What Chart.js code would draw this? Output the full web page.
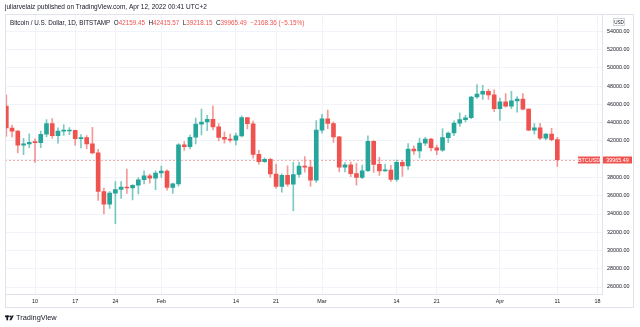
<!DOCTYPE html>
<html>
<head>
<meta charset="utf-8">
<title>BTCUSD 1D</title>
<script src="https://cdn.jsdelivr.net/npm/chart.js@4/dist/chart.umd.min.js"></script>
<style>
  html, body { margin: 0; padding: 0; background: #fff; }
  #wrap { width: 640px; height: 327px; position: relative; }
</style>
</head>
<body>
<div id="wrap"><canvas id="chart" width="640" height="327"></canvas></div>
<script>
// daily candles, Bitstamp BTC/USD
const dates = [
  '2022-01-05','2022-01-06','2022-01-07','2022-01-08','2022-01-09','2022-01-10','2022-01-11','2022-01-12',
  '2022-01-13','2022-01-14','2022-01-15','2022-01-16','2022-01-17','2022-01-18','2022-01-19','2022-01-20',
  '2022-01-21','2022-01-22','2022-01-23','2022-01-24','2022-01-25','2022-01-26','2022-01-27','2022-01-28',
  '2022-01-29','2022-01-30','2022-01-31','2022-02-01','2022-02-02','2022-02-03','2022-02-04','2022-02-05',
  '2022-02-06','2022-02-07','2022-02-08','2022-02-09','2022-02-10','2022-02-11','2022-02-12','2022-02-13',
  '2022-02-14','2022-02-15','2022-02-16','2022-02-17','2022-02-18','2022-02-19','2022-02-20','2022-02-21',
  '2022-02-22','2022-02-23','2022-02-24','2022-02-25','2022-02-26','2022-02-27','2022-02-28','2022-03-01',
  '2022-03-02','2022-03-03','2022-03-04','2022-03-05','2022-03-06','2022-03-07','2022-03-08','2022-03-09',
  '2022-03-10','2022-03-11','2022-03-12','2022-03-13','2022-03-14','2022-03-15','2022-03-16','2022-03-17',
  '2022-03-18','2022-03-19','2022-03-20','2022-03-21','2022-03-22','2022-03-23','2022-03-24','2022-03-25',
  '2022-03-26','2022-03-27','2022-03-28','2022-03-29','2022-03-30','2022-03-31','2022-04-01','2022-04-02',
  '2022-04-03','2022-04-04','2022-04-05','2022-04-06','2022-04-07','2022-04-08','2022-04-09','2022-04-10',
  '2022-04-11'
];
const open = [
  45833,43425,43080,41550,41680,41860,41820,42740,43920,42590,43090,43100,43180,42250,42380,41680,
  40700,36470,35080,36280,36680,36960,36850,37150,37750,38170,37920,38490,38710,36900,37310,41570,
  41390,42410,43850,44080,44380,43540,42400,42200,42080,42570,44570,43890,40540,39730,40000,38380,
  37010,38250,37260,38330,39240,39130,37710,43190,44420,43920,42460,39140,39400,38420,38020,38740,
  41970,39440,38730,38810,37790,39670,39280,41120,40920,41760,42200,41260,41000,42370,42880,43960,
  44350,44550,46820,47130,47450,47060,45530,46280,45830,46400,46600,45500,43200,43450,42300,42770,
  42159.45
];
const high = [
  47070,43750,43130,42300,42790,42250,43100,44350,44450,43450,43800,43480,43200,42690,42590,43500,
  41100,36830,36450,37540,37550,38920,37230,38000,38720,38370,38740,39260,38850,37390,41730,41940,
  42640,44500,45490,44800,45850,43910,43000,42750,42860,44770,44580,44180,40970,40160,40100,39470,
  38400,39270,39700,39700,40290,39860,44250,44920,45400,44100,42520,39640,39680,39550,39350,42570,
  42050,40220,39480,39320,39920,39870,41720,41470,42320,42400,42300,41540,43350,42990,44220,45100,
  44810,46900,48190,48100,47700,47600,46700,47200,47440,46870,47190,45520,43900,43950,42800,43380,
  42415.57
];
const low = [
  42500,42450,40700,40500,41260,39650,41270,42450,42320,41750,42600,42680,41550,41250,41150,40590,
  35500,34020,34620,32950,35700,36250,35550,36200,37300,37370,36660,38000,36600,36260,37060,40980,
  41120,41670,42660,43130,43220,42000,41770,41880,41570,42440,43330,40130,39450,39640,38010,36810,
  36400,37050,34330,38030,38590,37020,37470,42870,43350,41850,38600,38620,38100,37150,37860,38650,
  38550,38230,38660,37580,37570,38110,38850,40520,40140,41520,40920,40500,40870,41830,42580,43600,
  44080,44440,46670,46560,46550,45210,44250,45700,45550,45150,45400,43130,42760,42150,42130,42020,
  39218.15
];
const close = [
  43425,43080,41550,41680,41860,41820,42740,43920,42590,43090,43100,43180,42250,42380,41680,40700,
  36470,35080,36280,36680,36960,36850,37150,37750,38170,37920,38490,38710,36900,37310,41570,41390,
  42410,43850,44080,44380,43540,42400,42200,42080,42570,44570,43890,40540,39730,40000,38380,37010,
  38250,37260,38330,39240,39130,37710,43190,44420,43920,42460,39140,39400,38420,38020,38740,41970,
  39440,38730,38810,37790,39670,39280,41120,40920,41760,42200,41260,41000,42370,42880,43960,44350,
  44550,46820,47130,47450,47060,45530,46280,45830,46400,46600,45500,43200,43450,42300,42770,42133.85,
  39965.49
];

// axis labels
const tickDates = ['2022-01-10','2022-01-17','2022-01-24','2022-02-01','2022-02-14','2022-02-21',
                   '2022-03-01','2022-03-14','2022-03-21','2022-04-01','2022-04-11','2022-04-18'];
const tickLabels = ['10','17','24','Feb','14','21','Mar','14','21','Apr','11','18'];
const priceTicks = [26000,28000,30000,32000,34000,36000,38000,40000,42000,44000,46000,48000,50000,52000,54000];

const UP = '#26a69a', DOWN = '#ef5350';
const UP_WICK = 'rgba(38,166,154,0.6)', DOWN_WICK = 'rgba(239,83,80,0.6)';
const TEXT = '#131722', GRID = '#f0f3fa', LINE = '#e0e3eb';
const FONT = "'Liberation Sans', Arial, sans-serif";

const dayNum = s => (Date.parse(s) - Date.parse('2022-01-01')) / 864e5 + 1;
const days = dates.map(dayNum);
const tickDays = tickDates.map(dayNum);
const isUp = close.map((c, i) => c >= open[i]);

const last = close.length - 1;
const change = close[last] - close[last - 1];
const changePct = change / close[last - 1] * 100;

// top bar text, current price line, frame and logo
const overlay = {
  id: 'overlay',
  beforeDatasetsDraw(chart) {
    const { ctx, chartArea } = chart;
    const y = chart.scales.y.getPixelForValue(close[last]);
    ctx.save();
    ctx.strokeStyle = 'rgba(239,83,80,0.45)';
    ctx.lineWidth = 1;
    ctx.setLineDash([2, 2]);
    ctx.beginPath();
    ctx.moveTo(chartArea.left, Math.round(y) + 0.5);
    ctx.lineTo(chartArea.right - 25, Math.round(y) + 0.5);
    ctx.stroke();
    ctx.restore();
  },
  afterDraw(chart) {
    const { ctx, chartArea } = chart;
    const y = Math.round(chart.scales.y.getPixelForValue(close[last]));
    ctx.save();
    // price tags
    ctx.fillStyle = DOWN;
    ctx.fillRect(chartArea.right - 24.5, y - 3.5, 22, 7);
    ctx.fillRect(chartArea.right + 0.5, y - 3.5, 29, 7);
    ctx.fillStyle = '#fff';
    ctx.font = '5.4px ' + FONT;
    ctx.textAlign = 'center';
    ctx.textBaseline = 'middle';
    ctx.fillText('BTCUSD', chartArea.right - 13.5, y + 0.3);
    ctx.fillText(close[last].toFixed(2), chartArea.right + 15, y + 0.3);

    // frame
    ctx.strokeStyle = LINE;
    ctx.lineWidth = 1;
    ctx.strokeRect(5.5, 14.5, 628, 293);

    // USD box
    ctx.strokeStyle = '#d1d4dc';
    ctx.strokeRect(613.5, 18.5, 11, 7);
    ctx.fillStyle = TEXT;
    ctx.font = '4.6px ' + FONT;
    ctx.fillText('USD', 619, 22.3);

    // header
    ctx.textAlign = 'left';
    ctx.font = '6.5px ' + FONT;
    ctx.fillStyle = TEXT;
    ctx.fillText('juliarvelaiz published on TradingView.com, Apr 12, 2022 00:41 UTC+2', 5, 7.5);

    ctx.font = '6.3px ' + FONT;
    const parts = [
      ['Bitcoin / U.S. Dollar, 1D, BITSTAMP  O', TEXT],
      [open[last].toFixed(2), DOWN],
      ['  H', TEXT], [high[last].toFixed(2), DOWN],
      ['  L', TEXT], [low[last].toFixed(2), DOWN],
      ['  C', TEXT], [close[last].toFixed(2), DOWN],
      ['  \u2212' + Math.abs(change).toFixed(2) + ' (\u2212' + Math.abs(changePct).toFixed(2) + '%)', DOWN]
    ];
    let x = 10;
    parts.forEach(([t, c]) => {
      ctx.fillStyle = c;
      ctx.fillText(t, x, 23);
      x += ctx.measureText(t).width;
    });

    // footer logo
    ctx.fillStyle = TEXT;
    ctx.fillRect(5, 315.5, 4.2, 1.7);
    ctx.fillRect(6.4, 315.5, 1.7, 4.8);
    ctx.beginPath();
    ctx.arc(10.3, 316.4, 0.9, 0, Math.PI * 2);
    ctx.fill();
    ctx.beginPath();
    ctx.moveTo(11.8, 315.5);
    ctx.lineTo(13.8, 315.5);
    ctx.lineTo(11.3, 320.3);
    ctx.lineTo(9.4, 320.3);
    ctx.closePath();
    ctx.fill();
    ctx.font = '7.4px ' + FONT;
    ctx.fillText('TradingView', 16, 318.3);
    ctx.restore();
  }
};

const config = {
  type: 'bar',
  data: {
    datasets: [
      {
        label: 'wick',
        data: days.map((d, i) => ({ x: d, y: [low[i], high[i]] })),
        backgroundColor: isUp.map(u => u ? UP_WICK : DOWN_WICK),
        barThickness: 1,
        grouped: false,
        order: 2
      },
      {
        label: 'body',
        data: days.map((d, i) => ({ x: d, y: [open[i], close[i]] })),
        backgroundColor: isUp.map(u => u ? UP : DOWN),
        barThickness: 4,
        minBarLength: 1,
        grouped: false,
        order: 1
      }
    ]
  },
  options: {
    responsive: false,
    animation: false,
    devicePixelRatio: 1,
    layout: { padding: { left: 5, top: 15, right: 6, bottom: 19 } },
    plugins: { legend: { display: false }, tooltip: { enabled: false } },
    scales: {
      x: {
        type: 'linear',
        min: 4.77,
        max: 108.87,
        offset: false,
        afterFit: s => { s.height = 14; },
        afterBuildTicks: s => { s.ticks = tickDays.map(v => ({ value: v })); },
        grid: { color: GRID, drawTicks: false, offset: false },
        border: { color: LINE },
        ticks: {
          autoSkip: false,
          maxRotation: 0,
          padding: 4,
          color: TEXT,
          font: { family: FONT, size: 5.4 },
          callback: v => tickLabels[tickDays.indexOf(v)]
        }
      },
      y: {
        position: 'right',
        min: 25233,
        max: 55808,
        afterFit: s => { s.width = 31.5; },
        afterBuildTicks: s => { s.ticks = priceTicks.map(v => ({ value: v })); },
        grid: { color: GRID, drawTicks: false },
        border: { color: LINE },
        ticks: {
          autoSkip: false,
          crossAlign: 'center',
          padding: 4.5,
          color: TEXT,
          font: { family: FONT, size: 5.4 },
          callback: v => v.toFixed(2)
        }
      }
    }
  },
  plugins: [overlay]
};

const chart = new Chart(document.getElementById('chart'), config);
</script>
</body>
</html>
